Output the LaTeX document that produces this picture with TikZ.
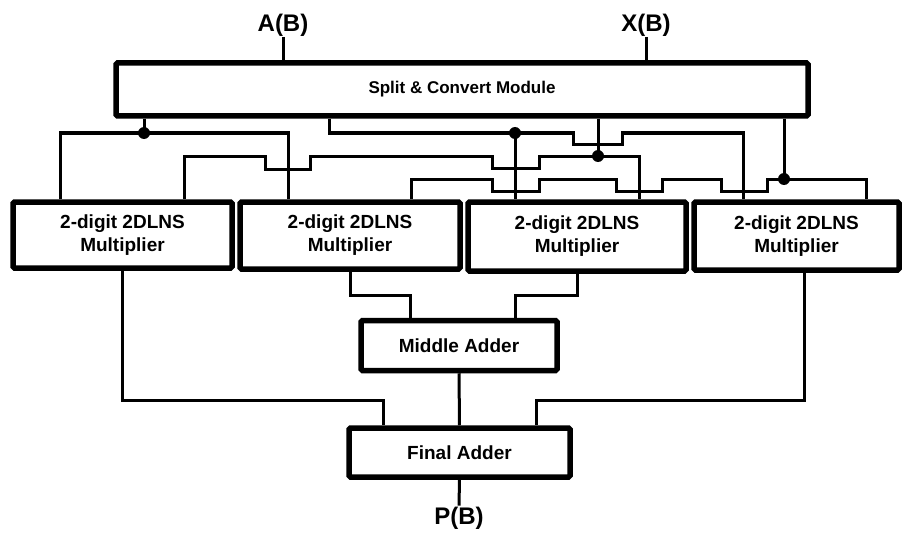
\documentclass[tikz,border=0pt]{standalone}
\usepackage{fontspec}
\setmainfont{Liberation Sans}

\begin{document}
\begin{tikzpicture}[x=1pt,y=-1pt,
    box/.style={draw,line width=5.5pt,rounded corners=1.5pt,align=center,inner sep=0pt,
        font=\fontsize{19}{23}\selectfont\bfseries},
    wire/.style={line width=3pt},
    iolabel/.style={inner sep=1pt,font=\fontsize{24}{27}\selectfont\bfseries}]
    \useasboundingbox (0,0) rectangle (906,535);

    % 绘制各个模块
    \node[box,minimum width=692pt,minimum height=53pt,font=\fontsize{17}{20}\selectfont\bfseries]
        (split) at (462,89.5) {Split \& Convert Module};
    \node[box,minimum width=219pt,minimum height=66pt] (m1) at (122.5,235) {2-digit 2DLNS\\Multiplier};
    \node[box,minimum width=220pt,minimum height=67pt] (m2) at (350,235.5) {2-digit 2DLNS\\Multiplier};
    \node[box,minimum width=218pt,minimum height=69pt] (m3) at (577,236.5) {2-digit 2DLNS\\Multiplier};
    \node[box,minimum width=205pt,minimum height=68pt] (m4) at (796.5,236) {2-digit 2DLNS\\Multiplier};
    \node[box,minimum width=196pt,minimum height=50pt] (mid) at (459,345.5) {Middle Adder};
    \node[box,minimum width=221pt,minimum height=49pt] (fin) at (459.5,452.5) {Final Adder};

    % 输入与输出
    \node[iolabel] (ain) at (283,25) {A(B)};
    \node[iolabel] (xin) at (646,25) {X(B)};
    \node[iolabel] (pout) at (459,518) {P(B)};
    \draw[wire] (ain.south) -- (split.north -| ain.south);
    \draw[wire] (xin.south) -- (split.north -| xin.south);
    \draw[wire] (fin.south) -- (pout.north);

    % 连接点
    \coordinate (d1) at (144,133);
    \coordinate (d2) at (515,133);
    \coordinate (d3) at (598,156);
    \coordinate (d4) at (784,179);
    \foreach \d in {d1,d2,d3,d4}
        \fill (\d) circle (6);

    % 分配到乘法器的连线
    \draw[wire] (split.south -| d1) -- (d1);
    \draw[wire] (m1.north -| 60,0) |- (d1) -| (m2.north -| 288,0);
    \draw[wire] (split.south -| 329,0) |- (d2) -- (573,133) -- (573,144) -- (622,144) -- (622,133)
        -| (m4.north -| 743,0);
    \draw[wire] (d2) -- (m3.north -| d2);
    \draw[wire] (split.south -| d3) -- (d3);
    \draw[wire] (m1.north -| 184,0) |- (265,156) -- (265,169) -- (310,169) -- (310,156)
        -- (492,156) -- (492,168) -- (539,168) -- (539,156) -- (d3) -| (m3.north -| 639,0);
    \draw[wire] (split.south -| d4) -- (d4);
    \draw[wire] (m2.north -| 411,0) |- (492,179) -- (492,191) -- (539,191) -- (539,179)
        -- (616,179) -- (616,191) -- (662,191) -- (662,179) -- (721,179) -- (721,191)
        -- (767,191) -- (767,179) -| (m4.north -| 866,0);

    % 加法器的连线
    \draw[wire] (m2.south) |- (410,295) -- (mid.north -| 410,0);
    \draw[wire] (m3.south) |- (515,295) -- (mid.north -| 515,0);
    \draw[wire] (mid) -- (fin);
    \draw[wire] (m1.south) |- (383,400) -- (fin.north -| 383,0);
    \draw[wire] (m4.south -| 804,0) |- (536,400) -- (fin.north -| 536,0);
\end{tikzpicture}
\end{document}
